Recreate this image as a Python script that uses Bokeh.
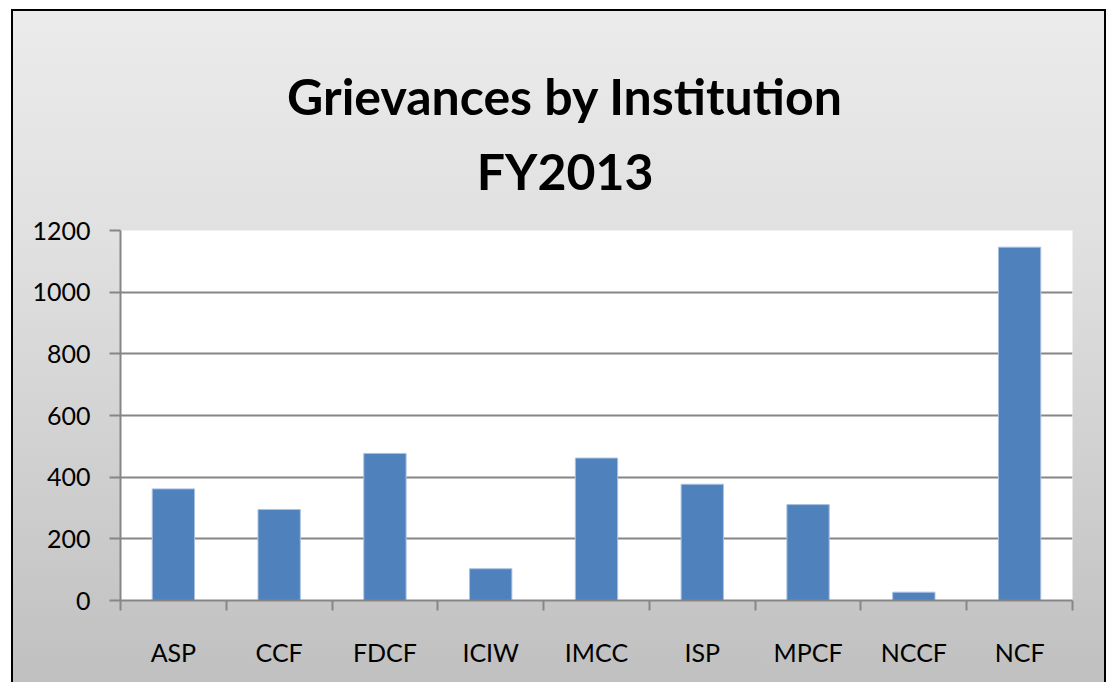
from bokeh.plotting import figure
from bokeh.layouts import column
from bokeh.models import (Range1d, LinearAxis, FixedTicker, ColumnDataSource)
from bokeh.core.properties import value
from bokeh.embed import file_html
from bokeh.resources import INLINE

categories = ["ASP", "CCF", "FDCF", "ICIW", "IMCC", "ISP", "MPCF", "NCCF", "NCF"]
grievances = [362, 295, 477, 103, 462, 377, 311, 27, 1146]
y_ticks = [0, 200, 400, 600, 800, 1000, 1200]
title_lines = ["Grievances by Institution", "FY2013"]

FONT = "Lato"
W = 1107
TITLE_H = 200
MAIN_H = 482

# ---------- title strip (its own small figure, texts only) ----------
tp = figure(width=W, height=TITLE_H, output_backend="svg", toolbar_location=None,
            x_range=Range1d(0, W), y_range=Range1d(TITLE_H, 0),
            x_axis_location=None, y_axis_location=None, title_location=None,
            min_border=0)
tp.border_fill_alpha = 0
tp.background_fill_alpha = 0
tp.outline_line_color = None
tp.xgrid.grid_line_color = None
tp.ygrid.grid_line_color = None
title_src = ColumnDataSource(dict(x=[517, 517], y=[95, 170], text=title_lines))
tp.text(x="x", y="y", text="text", source=title_src,
        text_align="center", text_baseline="alphabetic",
        text_font=value(FONT), text_font_style="bold",
        text_font_size="50px", text_color="black")

# ---------- main bar chart ----------
centres = [i + 0.5 for i in range(len(categories))]
bounds = [float(i) for i in range(len(categories) + 1)]

src = ColumnDataSource(dict(x=centres, val=grievances, cat=categories))

p = figure(width=W, height=MAIN_H, output_backend="svg", toolbar_location=None,
           x_range=Range1d(0, len(categories)),
           y_range=Range1d(0, 1200),
           x_axis_location=None, y_axis_location=None, title_location=None,
           min_border_left=120, min_border_right=35,
           min_border_top=30, min_border_bottom=82)

p.border_fill_alpha = 0
p.background_fill_color = "white"
p.outline_line_color = None

p.vbar(x="x", top="val", width=0.4, source=src, fill_color="#4f81bd",
       line_color="#a9c1e0", line_width=1)

# y axis
yax = LinearAxis(ticker=FixedTicker(ticks=y_ticks))
yax.axis_line_color = "#868686"
yax.axis_line_width = 2
yax.major_tick_line_color = "#868686"
yax.major_tick_line_width = 2
yax.major_tick_out = 11
yax.major_tick_in = 0
yax.minor_tick_line_color = None
yax.major_label_standoff = 19
yax.major_label_text_font = FONT
yax.major_label_text_font_size = "25px"
yax.major_label_text_color = "black"
p.add_layout(yax, "left")

p.ygrid.ticker = FixedTicker(ticks=y_ticks)
p.ygrid.grid_line_color = "#868686"
p.ygrid.grid_line_width = 2
p.xgrid.grid_line_color = None

# x axis: labels at centres, ticks at category boundaries
xax = LinearAxis(ticker=FixedTicker(ticks=centres, minor_ticks=bounds),
                 major_label_overrides={c: n for c, n in zip(centres, categories)})
xax.axis_line_color = "#868686"
xax.axis_line_width = 2
xax.major_tick_line_color = None
xax.major_tick_out = 0
xax.major_tick_in = 0
xax.minor_tick_line_color = "#868686"
xax.minor_tick_line_width = 2
xax.minor_tick_out = 10
xax.minor_tick_in = 0
xax.major_label_standoff = 26
xax.major_label_text_font = FONT
xax.major_label_text_font_size = "25px"
xax.major_label_text_color = "black"
p.add_layout(xax, "below")

layout = column(tp, p, spacing=0)
layout.styles = {"background": (
    "linear-gradient(#000,#000) 11px 9px / 2px 673px no-repeat, "
    "linear-gradient(#000,#000) 11px 9px / 1095px 2px no-repeat, "
    "linear-gradient(#000,#000) 1104px 9px / 2px 673px no-repeat, "
    "linear-gradient(to bottom, #ebebeb 0%, #e0e0e0 35%, #c0c0c0 100%) 11px 9px / 1095px 673px no-repeat, "
    "#ffffff")}

open("out.html", "w").write(file_html(layout, INLINE))
